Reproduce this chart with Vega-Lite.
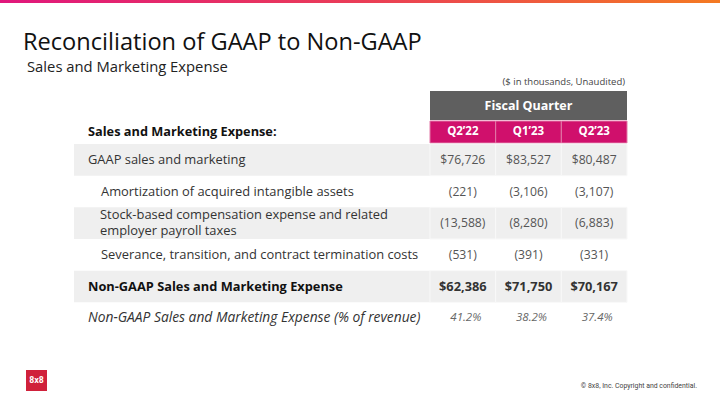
{
  "$schema": "https://vega.github.io/schema/vega-lite/v6.json",
  "width": 720,
  "height": 405,
  "autosize": {"type": "none"},
  "padding": 0,
  "background": "white",
  "config": {"view": {"stroke": null}, "font": "Open Sans"},
  "datasets": {
    "lines": [
      {"row": 1, "level": 0, "kind": "GAAP", "line": "GAAP sales and marketing"},
      {"row": 2, "level": 1, "kind": "adjustment", "line": "Amortization of acquired intangible assets"},
      {"row": 3, "level": 1, "kind": "adjustment", "line": "Stock-based compensation expense and related\nemployer payroll taxes"},
      {"row": 4, "level": 1, "kind": "adjustment", "line": "Severance, transition, and contract termination costs"},
      {"row": 5, "level": 0, "kind": "non-GAAP", "line": "Non-GAAP Sales and Marketing Expense"},
      {"row": 6, "level": 0, "kind": "ratio", "line": "Non-GAAP Sales and Marketing Expense (% of revenue)"}
    ],
    "cells": [
      {"row": 1, "quarter": "Q2’22", "value": 76726},
      {"row": 1, "quarter": "Q1’23", "value": 83527},
      {"row": 1, "quarter": "Q2’23", "value": 80487},
      {"row": 2, "quarter": "Q2’22", "value": -221},
      {"row": 2, "quarter": "Q1’23", "value": -3106},
      {"row": 2, "quarter": "Q2’23", "value": -3107},
      {"row": 3, "quarter": "Q2’22", "value": -13588},
      {"row": 3, "quarter": "Q1’23", "value": -8280},
      {"row": 3, "quarter": "Q2’23", "value": -6883},
      {"row": 4, "quarter": "Q2’22", "value": -531},
      {"row": 4, "quarter": "Q1’23", "value": -391},
      {"row": 4, "quarter": "Q2’23", "value": -331},
      {"row": 5, "quarter": "Q2’22", "value": 62386},
      {"row": 5, "quarter": "Q1’23", "value": 71750},
      {"row": 5, "quarter": "Q2’23", "value": 70167},
      {"row": 6, "quarter": "Q2’22", "value": 0.412},
      {"row": 6, "quarter": "Q1’23", "value": 0.382},
      {"row": 6, "quarter": "Q2’23", "value": 0.374}
    ],
    "quarters": [
      {"quarter": "Q2’22", "header": "Fiscal Quarter"},
      {"quarter": "Q1’23", "header": "Fiscal Quarter"},
      {"quarter": "Q2’23", "header": "Fiscal Quarter"}
    ],
    "furniture": [
      {"element": "accent", "text": ""},
      {"element": "title", "text": "Reconciliation of GAAP to Non-GAAP"},
      {"element": "subtitle", "text": "Sales and Marketing Expense"},
      {"element": "note", "text": "($ in thousands, Unaudited)"},
      {"element": "section", "text": "Sales and Marketing Expense:"},
      {"element": "logo", "text": "8x8"},
      {"element": "footer", "text": "© 8x8, Inc. Copyright and confidential."}
    ]
  },
  "resolve": {"scale": {"x": "independent", "y": "independent", "size": "independent"}},
  "layer": [
    {
      "data": {"name": "furniture"},
      "transform": [{"filter": "datum.element == 'accent'"}],
      "mark": {"type": "rect", "fill": {"gradient": "linear", "x1": 0, "y1": 0, "x2": 1, "y2": 0, "stops": [{"offset": 0, "color": "#e0177c"}, {"offset": 0.5, "color": "#ea3d57"}, {"offset": 1, "color": "#f47a22"}]}},
      "encoding": {
        "x": {"field": "element", "type": "nominal", "axis": null, "scale": {"type": "band", "range": [0, 720], "paddingInner": 0, "paddingOuter": 0}},
        "y": {"field": "element", "type": "nominal", "axis": null, "scale": {"type": "band", "range": [0, 3], "paddingInner": 0, "paddingOuter": 0}}
      }
    },
    {
      "data": {"name": "furniture"},
      "transform": [{"filter": "datum.element == 'title'"}],
      "mark": {"type": "text", "align": "left", "baseline": "middle", "fontSize": 23.6, "color": "#111111"},
      "encoding": {
        "x": {"field": "element", "type": "nominal", "axis": null, "scale": {"type": "point", "range": [23, 23]}},
        "y": {"field": "element", "type": "nominal", "axis": null, "scale": {"type": "point", "range": [43, 43]}},
        "text": {"field": "text"}
      }
    },
    {
      "data": {"name": "furniture"},
      "transform": [{"filter": "datum.element == 'subtitle'"}],
      "mark": {"type": "text", "align": "left", "baseline": "middle", "fontSize": 14.8, "color": "#222222"},
      "encoding": {
        "x": {"field": "element", "type": "nominal", "axis": null, "scale": {"type": "point", "range": [27, 27]}},
        "y": {"field": "element", "type": "nominal", "axis": null, "scale": {"type": "point", "range": [67.5, 67.5]}},
        "text": {"field": "text"}
      }
    },
    {
      "data": {"name": "furniture"},
      "transform": [{"filter": "datum.element == 'note'"}],
      "mark": {"type": "text", "align": "right", "baseline": "middle", "fontSize": 9.5, "color": "#444444"},
      "encoding": {
        "x": {"field": "element", "type": "nominal", "axis": null, "scale": {"type": "point", "range": [625, 625]}},
        "y": {"field": "element", "type": "nominal", "axis": null, "scale": {"type": "point", "range": [82, 82]}},
        "text": {"field": "text"}
      }
    },
    {
      "data": {"name": "quarters"},
      "mark": {"type": "rect", "fill": "#5f5f5f"},
      "encoding": {
        "x": {"field": "header", "type": "nominal", "axis": null, "scale": {"type": "band", "range": [430, 627], "paddingInner": 0, "paddingOuter": 0}},
        "y": {"field": "header", "type": "nominal", "axis": null, "scale": {"type": "band", "range": [91, 120], "paddingInner": 0, "paddingOuter": 0}}
      }
    },
    {
      "data": {"name": "quarters"},
      "transform": [{"aggregate": [{"op": "count", "as": "n"}], "groupby": ["header"]}],
      "mark": {"type": "text", "align": "center", "baseline": "middle", "fontSize": 12.5, "fontWeight": "bold", "color": "white"},
      "encoding": {
        "x": {"field": "header", "type": "nominal", "axis": null, "scale": {"type": "band", "range": [430, 627], "paddingInner": 0, "paddingOuter": 0}},
        "y": {"field": "header", "type": "nominal", "axis": null, "scale": {"type": "band", "range": [91, 120], "paddingInner": 0, "paddingOuter": 0}},
        "text": {"field": "header"}
      }
    },
    {
      "data": {"name": "quarters"},
      "mark": {"type": "rect", "fill": "#d0106c", "stroke": "#e27aa8", "strokeWidth": 1},
      "encoding": {
        "x": {"field": "quarter", "type": "nominal", "axis": null, "sort": null, "scale": {"type": "band", "range": [430, 627], "paddingInner": 0, "paddingOuter": 0}},
        "y": {"field": "header", "type": "nominal", "axis": null, "scale": {"type": "band", "range": [121, 143], "paddingInner": 0, "paddingOuter": 0}}
      }
    },
    {
      "data": {"name": "quarters"},
      "mark": {"type": "text", "align": "center", "baseline": "middle", "fontSize": 11.5, "fontWeight": "bold", "color": "white"},
      "encoding": {
        "x": {"field": "quarter", "type": "nominal", "axis": null, "sort": null, "scale": {"type": "band", "range": [430, 627], "paddingInner": 0, "paddingOuter": 0}},
        "y": {"field": "header", "type": "nominal", "axis": null, "scale": {"type": "band", "range": [121, 143], "paddingInner": 0, "paddingOuter": 0}},
        "text": {"field": "quarter"}
      }
    },
    {
      "data": {"name": "furniture"},
      "transform": [{"filter": "datum.element == 'section'"}],
      "mark": {"type": "text", "align": "left", "baseline": "middle", "fontSize": 12.75, "fontWeight": "bold", "color": "#111111"},
      "encoding": {
        "x": {"field": "element", "type": "nominal", "axis": null, "scale": {"type": "point", "range": [88, 88]}},
        "y": {"field": "element", "type": "nominal", "axis": null, "scale": {"type": "point", "range": [132, 132]}},
        "text": {"field": "text"}
      }
    },
    {
      "data": {"name": "lines"},
      "transform": [{"filter": "datum.row % 2 == 1"}],
      "mark": {"type": "rect", "fill": "#efefef"},
      "encoding": {
        "x": {"datum": "label", "type": "nominal", "axis": null, "scale": {"type": "band", "domain": ["label"], "range": [74, 430], "paddingInner": 0, "paddingOuter": 0}},
        "y": {"field": "row", "type": "ordinal", "axis": null, "scale": {"type": "band", "domain": [1, 2, 3, 4, 5, 6], "range": [144, 334], "paddingInner": 0, "paddingOuter": 0}}
      }
    },
    {
      "data": {"name": "cells"},
      "transform": [{"filter": "datum.row % 2 == 1"}],
      "mark": {"type": "rect", "fill": "#efefef", "stroke": "#f8f8f8", "strokeWidth": 1},
      "encoding": {
        "x": {"field": "quarter", "type": "nominal", "axis": null, "scale": {"type": "band", "domain": ["Q2’22", "Q1’23", "Q2’23"], "range": [430, 627], "paddingInner": 0, "paddingOuter": 0}},
        "y": {"field": "row", "type": "ordinal", "axis": null, "scale": {"type": "band", "domain": [1, 2, 3, 4, 5, 6], "range": [144, 334], "paddingInner": 0, "paddingOuter": 0}}
      }
    },
    {
      "data": {"name": "lines"},
      "transform": [{"filter": "(datum.kind == 'GAAP' || datum.kind == 'adjustment') && datum.row != 3"}],
      "mark": {"type": "text", "align": "left", "baseline": "middle", "fontSize": 12.9, "color": "#333333"},
      "encoding": {
        "x": {"field": "level", "type": "ordinal", "axis": null, "scale": {"type": "point", "domain": [0, 1], "range": [88, 101], "padding": 0}},
        "y": {"field": "row", "type": "ordinal", "axis": null, "scale": {"type": "band", "domain": [1, 2, 3, 4, 5, 6], "range": [144, 334], "paddingInner": 0, "paddingOuter": 0}},
        "text": {"field": "line"}
      }
    },
    {
      "data": {"name": "lines"},
      "transform": [{"filter": "datum.row == 3"}],
      "mark": {"type": "text", "align": "left", "baseline": "middle", "fontSize": 12.9, "color": "#333333", "lineBreak": "\n", "lineHeight": 16.5, "dy": -8.25},
      "encoding": {
        "x": {"field": "level", "type": "ordinal", "axis": null, "scale": {"type": "point", "domain": [0, 1], "range": [88, 100], "padding": 0}},
        "y": {"field": "row", "type": "ordinal", "axis": null, "scale": {"type": "band", "domain": [1, 2, 3, 4, 5, 6], "range": [144, 334], "paddingInner": 0, "paddingOuter": 0}},
        "text": {"field": "line"}
      }
    },
    {
      "data": {"name": "lines"},
      "transform": [{"filter": "datum.kind == 'non-GAAP'"}],
      "mark": {"type": "text", "align": "left", "baseline": "middle", "fontSize": 12.8, "fontWeight": "bold", "color": "#111111"},
      "encoding": {
        "x": {"field": "level", "type": "ordinal", "axis": null, "scale": {"type": "point", "domain": [0, 1], "range": [88, 101], "padding": 0}},
        "y": {"field": "row", "type": "ordinal", "axis": null, "scale": {"type": "band", "domain": [1, 2, 3, 4, 5, 6], "range": [144, 334], "paddingInner": 0, "paddingOuter": 0}},
        "text": {"field": "line"}
      }
    },
    {
      "data": {"name": "lines"},
      "transform": [{"filter": "datum.kind == 'ratio'"}],
      "mark": {"type": "text", "align": "left", "baseline": "middle", "fontSize": 13.8, "fontStyle": "italic", "color": "#333333"},
      "encoding": {
        "x": {"field": "level", "type": "ordinal", "axis": null, "scale": {"type": "point", "domain": [0, 1], "range": [88, 101], "padding": 0}},
        "y": {"field": "row", "type": "ordinal", "axis": null, "scale": {"type": "band", "domain": [1, 2, 3, 4, 5, 6], "range": [144, 334], "paddingInner": 0, "paddingOuter": 0}},
        "text": {"field": "line"}
      }
    },
    {
      "data": {"name": "cells"},
      "transform": [{"filter": "datum.row == 1"}],
      "mark": {"type": "text", "align": "center", "baseline": "middle", "fontSize": 12.2, "color": "#555555"},
      "encoding": {
        "x": {"field": "quarter", "type": "nominal", "axis": null, "scale": {"type": "band", "domain": ["Q2’22", "Q1’23", "Q2’23"], "range": [430, 627], "paddingInner": 0, "paddingOuter": 0}},
        "y": {"field": "row", "type": "ordinal", "axis": null, "scale": {"type": "band", "domain": [1, 2, 3, 4, 5, 6], "range": [144, 334], "paddingInner": 0, "paddingOuter": 0}},
        "text": {"field": "value", "type": "quantitative", "format": "$,.0f"}
      }
    },
    {
      "data": {"name": "cells"},
      "transform": [{"filter": "datum.row >= 2 && datum.row <= 4"}],
      "mark": {"type": "text", "align": "center", "baseline": "middle", "fontSize": 12.2, "color": "#555555"},
      "encoding": {
        "x": {"field": "quarter", "type": "nominal", "axis": null, "scale": {"type": "band", "domain": ["Q2’22", "Q1’23", "Q2’23"], "range": [430, 627], "paddingInner": 0, "paddingOuter": 0}},
        "y": {"field": "row", "type": "ordinal", "axis": null, "scale": {"type": "band", "domain": [1, 2, 3, 4, 5, 6], "range": [144, 334], "paddingInner": 0, "paddingOuter": 0}},
        "text": {"field": "value", "type": "quantitative", "format": "(,.0f"}
      }
    },
    {
      "data": {"name": "cells"},
      "transform": [{"filter": "datum.row == 5"}],
      "mark": {"type": "text", "align": "center", "baseline": "middle", "fontSize": 12.8, "fontWeight": "bold", "color": "#333333"},
      "encoding": {
        "x": {"field": "quarter", "type": "nominal", "axis": null, "scale": {"type": "band", "domain": ["Q2’22", "Q1’23", "Q2’23"], "range": [430, 627], "paddingInner": 0, "paddingOuter": 0}},
        "y": {"field": "row", "type": "ordinal", "axis": null, "scale": {"type": "band", "domain": [1, 2, 3, 4, 5, 6], "range": [144, 334], "paddingInner": 0, "paddingOuter": 0}},
        "text": {"field": "value", "type": "quantitative", "format": "$,.0f"}
      }
    },
    {
      "data": {"name": "cells"},
      "transform": [{"filter": "datum.row == 6"}],
      "mark": {"type": "text", "align": "center", "baseline": "middle", "fontSize": 11.5, "fontStyle": "italic", "color": "#666666", "dx": 3},
      "encoding": {
        "x": {"field": "quarter", "type": "nominal", "axis": null, "scale": {"type": "band", "domain": ["Q2’22", "Q1’23", "Q2’23"], "range": [430, 627], "paddingInner": 0, "paddingOuter": 0}},
        "y": {"field": "row", "type": "ordinal", "axis": null, "scale": {"type": "band", "domain": [1, 2, 3, 4, 5, 6], "range": [144, 334], "paddingInner": 0, "paddingOuter": 0}},
        "text": {"field": "value", "type": "quantitative", "format": ".1%"}
      }
    },
    {
      "data": {"name": "furniture"},
      "transform": [{"filter": "datum.element == 'logo'"}],
      "mark": {"type": "rect", "fill": "#d0213b"},
      "encoding": {
        "x": {"field": "element", "type": "nominal", "axis": null, "scale": {"type": "band", "range": [26, 47], "paddingInner": 0, "paddingOuter": 0}},
        "y": {"field": "element", "type": "nominal", "axis": null, "scale": {"type": "band", "range": [370, 391], "paddingInner": 0, "paddingOuter": 0}}
      }
    },
    {
      "data": {"name": "furniture"},
      "transform": [{"filter": "datum.element == 'logo'"}],
      "mark": {"type": "text", "align": "center", "baseline": "middle", "fontSize": 8, "fontWeight": "bold", "font": "DejaVu Sans Condensed", "color": "white"},
      "encoding": {
        "x": {"field": "element", "type": "nominal", "axis": null, "scale": {"type": "band", "range": [26, 47], "paddingInner": 0, "paddingOuter": 0}},
        "y": {"field": "element", "type": "nominal", "axis": null, "scale": {"type": "band", "range": [370, 391], "paddingInner": 0, "paddingOuter": 0}},
        "text": {"field": "text"}
      }
    },
    {
      "data": {"name": "furniture"},
      "transform": [{"filter": "datum.element == 'footer'"}],
      "mark": {"type": "text", "align": "right", "baseline": "middle", "fontSize": 6.9, "font": "Roboto", "color": "#444444"},
      "encoding": {
        "x": {"field": "element", "type": "nominal", "axis": null, "scale": {"type": "point", "range": [697, 697]}},
        "y": {"field": "element", "type": "nominal", "axis": null, "scale": {"type": "point", "range": [386, 386]}},
        "text": {"field": "text"}
      }
    }
  ]
}
